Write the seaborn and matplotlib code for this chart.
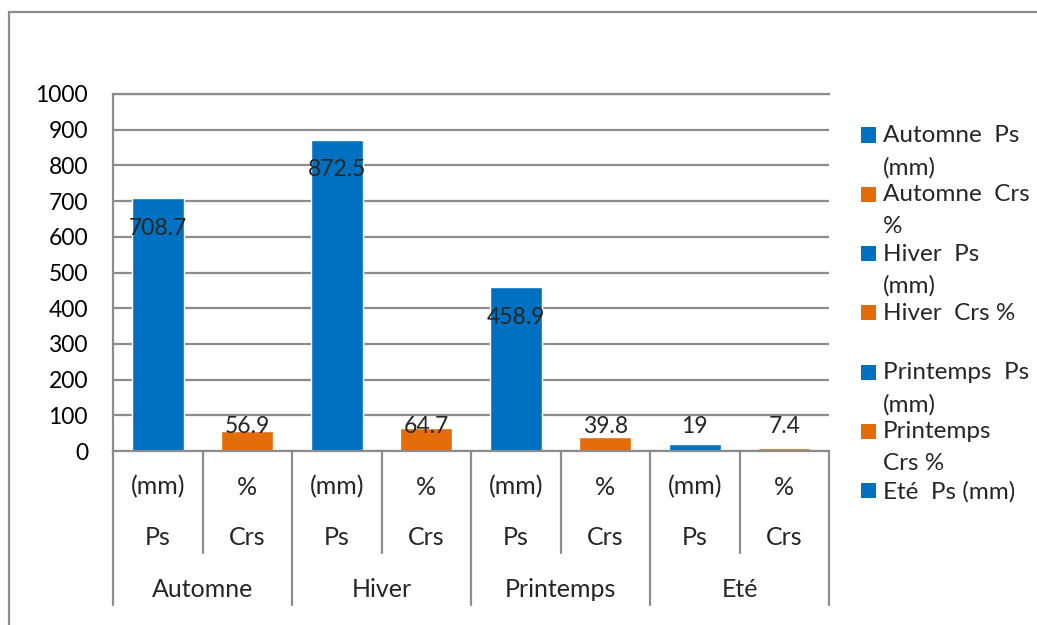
import numpy as np
import pandas as pd
import matplotlib
matplotlib.use('Agg')
import matplotlib.pyplot as plt
import matplotlib.transforms as mtrans
from matplotlib.patches import Rectangle
import seaborn as sns

sns.set_style("white")
plt.rcParams['font.family'] = ['Lato', 'DejaVu Sans']

# données
seasons = ['Automne', 'Hiver', 'Printemps', 'Eté']
ps_values = [708.7, 872.5, 458.9, 19]
crs_values = [56.9, 64.7, 39.8, 7.4]
legend_labels = ['Automne  Ps\n(mm)', 'Automne  Crs\n%', 'Hiver  Ps\n(mm)', 'Hiver  Crs %',
                 'Printemps  Ps\n(mm)', 'Printemps\nCrs %', 'Eté  Ps (mm)']
colors = {'Ps': '#0070C0', 'Crs': '#E46C0A'}

rows = []
for s, p, c in zip(seasons, ps_values, crs_values):
    rows.append({'saison': s, 'mesure': 'Ps', 'unite': '(mm)', 'cat': s + ' Ps', 'valeur': p})
    rows.append({'saison': s, 'mesure': 'Crs', 'unite': '%', 'cat': s + ' Crs', 'valeur': c})
df = pd.DataFrame(rows)

W, H = 1037, 625
grey = '#8c8c8c'
fs_num = 16.5
fs_txt = 18

fig = plt.figure(figsize=(W / 100, H / 100), dpi=100)
ax = fig.add_axes([113 / W, 1 - 451 / H, (829 - 113) / W, (451 - 94) / H])

sns.barplot(data=df, x='cat', y='valeur', hue='mesure', palette=colors, dodge=False,
            width=0.58, saturation=1, legend=False, ax=ax)

ax.set_xlim(-0.5, 7.5)
ax.set_ylim(0, 1000)
ax.set_yticks(range(0, 1001, 100))
ax.set_xticks([])
ax.set_xlabel('')
ax.set_ylabel('')
ax.yaxis.grid(True, color=grey, lw=1.6)
ax.set_axisbelow(True)
ax.tick_params(axis='y', length=0, pad=18, labelsize=fs_num, labelcolor='black')
for side in ['left', 'bottom', 'top']:
    ax.spines[side].set_color(grey)
    ax.spines[side].set_linewidth(1.6)
ax.spines['right'].set_visible(False)

# étiquettes de valeurs
for i, v in enumerate(df['valeur']):
    ax.text(i, max(v - 85, 70), f"{v:g}", ha='center', va='center', fontsize=fs_num)

# axe des catégories à plusieurs niveaux
trans = mtrans.blended_transform_factory(ax.transData, ax.transAxes)
for i, r in df.iterrows():
    ax.text(i, -0.101, r['unite'], transform=trans, ha='center', va='center', fontsize=fs_txt)
    ax.text(i, -0.241, r['mesure'], transform=trans, ha='center', va='center', fontsize=fs_txt)
for j, s in enumerate(seasons):
    ax.text(2 * j + 0.5, -0.387, s, transform=trans, ha='center', va='center', fontsize=fs_txt)
for k in range(len(df) + 1):
    bottom = -0.431 if k % 2 == 0 else -0.286
    ax.plot([k - 0.5, k - 0.5], [0, bottom], transform=trans, clip_on=False,
            color=grey, lw=1.6)

# légende
for k, lab in enumerate(legend_labels):
    yc = 135 + k * 59.3
    col = colors['Ps'] if k % 2 == 0 else colors['Crs']
    fig.add_artist(Rectangle((861 / W, 1 - (yc + 7.5) / H), 15 / W, 15 / H,
                             transform=fig.transFigure, color=col, lw=0))
    fig.text(883 / W, 1 - (yc - 10) / H, lab, ha='left', va='top', fontsize=17.5,
             linespacing=1.62)

# cadre extérieur
fig.add_artist(Rectangle((9 / W, -0.5), 2, 0.5 + 1 - 12 / H, transform=fig.transFigure,
                         fill=False, edgecolor=grey, lw=1.6))

fig.savefig('out.png', dpi=100)
